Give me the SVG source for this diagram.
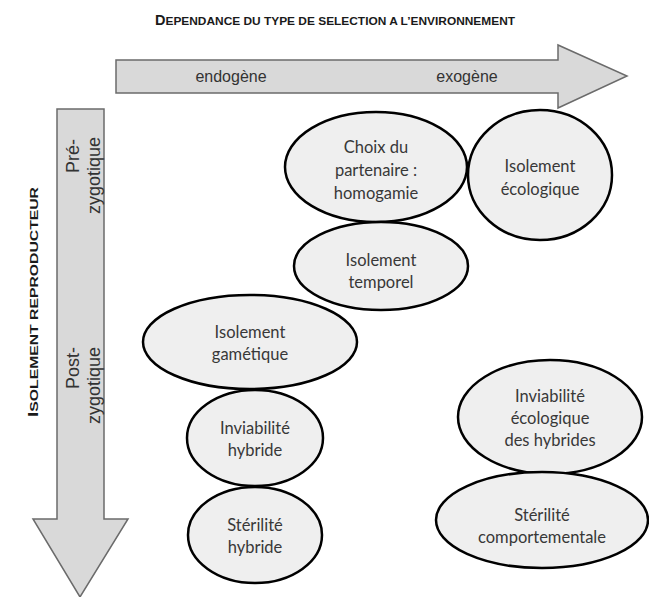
<svg xmlns="http://www.w3.org/2000/svg" width="649" height="597" viewBox="0 0 649 597">
<style>
.arrow{fill:#d9d9d9;stroke:#6b6b6b;stroke-width:1.5;stroke-linejoin:miter}
.node ellipse{fill:#efefef;stroke:#000;stroke-width:2.5}
.node text{font-family:Lato,"Open Sans",sans-serif;font-size:16.5px;fill:#383838;text-anchor:middle}
.al{font-family:"Liberation Sans",Arial,sans-serif;fill:#333}
.title{font-family:"Liberation Sans Narrow","Liberation Sans",Arial,sans-serif;font-weight:bold;fill:#1a1a1a}
</style>
<rect width="649" height="597" fill="#fff"/>
<text class="title" x="155" y="25" textLength="360" lengthAdjust="spacingAndGlyphs"><tspan font-size="14">D</tspan><tspan font-size="11.5">EPENDANCE DU TYPE DE SELECTION A L’ENVIRONNEMENT</tspan></text>
<g id="connectors">
<polygon id="arrow-h" class="arrow" points="116,60 558,60 558,45 627,76 558,108 558,93 116,93"/>
<polygon id="arrow-v" class="arrow" points="57,109 104,109 104,519 128,519 80,597 33,519 57,519"/>
</g>
<text class="al" x="231" y="82" font-size="16" text-anchor="middle">endogène</text>
<text class="al" x="467" y="82" font-size="16" text-anchor="middle">exogène</text>
<text class="title" transform="translate(38,417) rotate(-90)" textLength="230" lengthAdjust="spacingAndGlyphs"><tspan font-size="14">I</tspan><tspan font-size="11.5">SOLEMENT REPRODUCTEUR</tspan></text>
<g class="al" font-size="18" text-anchor="end">
<text transform="translate(79,139) rotate(-90)">Pré-</text>
<text transform="translate(100,137) rotate(-90)">zygotique</text>
<text transform="translate(79,347) rotate(-90)">Post-</text>
<text transform="translate(100,347) rotate(-90)">zygotique</text>
</g>
<g id="n-choix" class="node"><ellipse cx="376" cy="167" rx="91" ry="55"/><text x="376" y="153">Choix du</text><text x="376" y="176">partenaire :</text><text x="376" y="199">homogamie</text></g>
<g id="n-ecologique" class="node"><ellipse cx="540" cy="175" rx="72" ry="65"/><text x="540" y="172">Isolement</text><text x="540" y="195">écologique</text></g>
<g id="n-temporel" class="node"><ellipse cx="381" cy="266" rx="87" ry="44"/><text x="381" y="266">Isolement</text><text x="381" y="288">temporel</text></g>
<g id="n-gametique" class="node"><ellipse cx="250" cy="342" rx="107" ry="47"/><text x="250" y="338">Isolement</text><text x="250" y="360">gamétique</text></g>
<g id="n-inviabilite" class="node"><ellipse cx="255" cy="438" rx="68" ry="48"/><text x="255" y="434">Inviabilité</text><text x="255" y="456">hybride</text></g>
<g id="n-sterilite" class="node"><ellipse cx="255" cy="535" rx="67" ry="48"/><text x="255" y="531">Stérilité</text><text x="255" y="553">hybride</text></g>
<g id="n-inviab-eco" class="node"><ellipse cx="550" cy="417" rx="92" ry="57"/><text x="550" y="402">Inviabilité</text><text x="550" y="424">écologique</text><text x="550" y="446">des hybrides</text></g>
<g id="n-comport" class="node"><ellipse cx="542" cy="520" rx="106" ry="48"/><text x="542" y="521">Stérilité</text><text x="542" y="543">comportementale</text></g>
</svg>
